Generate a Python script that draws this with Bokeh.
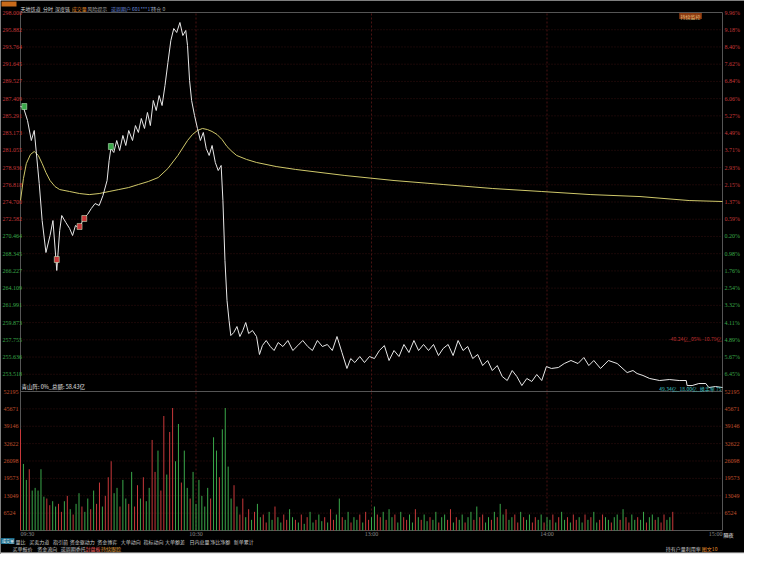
from bokeh.plotting import figure
from bokeh.models import Range1d
from bokeh.core.properties import value
from bokeh.embed import file_html
from bokeh.resources import INLINE

# ---------------- data ----------------
price_ticks = [298.000, 295.882, 293.764, 291.645, 289.527, 287.409, 285.291, 283.173,
               281.055, 278.936, 276.818, 274.700, 272.582, 270.464, 268.345, 266.227,
               264.109, 261.991, 259.873, 257.755, 255.636, 253.518]
pct_labels = ["9.96%", "9.18%", "8.40%", "7.62%", "6.84%", "6.06%", "5.27%", "4.49%",
              "3.71%", "2.93%", "2.15%", "1.37%", "0.59%", "0.20%", "0.98%", "1.76%",
              "2.54%", "3.32%", "4.11%", "4.89%", "5.67%", "6.45%"]
prev_close = 270.98
vol_ticks = [52195, 45671, 39146, 32622, 26098, 19573, 13049, 6524]
time_ticks = [0, 60, 120, 180, 240]
time_labels = ["09:30", "10:30", "13:00", "14:00", "15:00"]

price_min = [0, 1, 2.4, 3.7, 4.7, 6.4, 7.4, 8.7, 10.1, 11.1, 12.4, 13.4, 14.1, 15.5, 16.8, 17.8,
             18.8, 20.2, 21.5, 22.9, 24.2, 25.5, 26.9, 28.2, 29.6, 30.3, 30.9, 31.9, 32.9, 33.9,
             35, 36, 37, 38.3, 39.3, 40.3, 41.3, 42.4, 43.4, 44.4, 45.4, 46.4, 47.4, 48.4, 49.4,
             50.4, 51.4, 52.4, 53.4, 54.5, 55.5, 56.5, 57.1, 57.8, 58.5, 59.5, 60.5, 61.5, 62.5,
             63.5, 64.5, 65.5, 66.6, 67.6, 68.6, 69.2, 69.9, 70.6, 71.3, 71.9, 72.9, 74, 75, 76,
             77, 78, 79.3, 80.7, 81.7, 82.7, 84, 85.4, 86.7, 88.1, 89.7, 91.4, 93.1, 94.8, 96.5,
             98.2, 99.8, 101.5, 103.2, 104.9, 106.6, 108.2, 109.9, 111.6, 112.9, 114.3, 116,
             117.6, 119.3, 121, 122.7, 124.4, 126, 127.7, 129.4, 131.1, 132.8, 134.5, 136.1,
             137.8, 139.5, 141.2, 142.9, 144.5, 146.2, 147.9, 149.6, 151.3, 152.9, 154.6, 156.3,
             158, 159.7, 161.3, 163, 164.7, 166.4, 168.1, 169.7, 171.4, 173.1, 174.8, 176.5,
             178.2, 179.8, 181.5, 183.9, 185.9, 188.2, 190.6, 192.6, 194.3, 196, 198.3, 201, 204,
             207.4, 209.4, 210.8, 212.8, 215.1, 218.5, 221.8, 225.2, 227.6, 227.9, 229.6, 231.9,
             234.3, 235.3, 237.6, 240]
price_val = [286.44, 286.32, 284.72, 282.26, 283.49, 276.97, 272.42, 268.49, 270.58, 272.42,
             266.28, 271.19, 273.04, 272.18, 271.44, 270.58, 271.81, 271.44, 272.67, 273.16,
             273.90, 274.51, 274.27, 275.50, 277.34, 279.80, 281.28, 280.79, 282.26, 281.03,
             282.88, 281.65, 283.49, 282.26, 284.10, 283.25, 284.97, 283.74, 285.71, 284.10,
             287.18, 285.95, 287.79, 286.56, 289.02, 291.85, 294.56, 296.03, 295.54, 296.77,
             295.17, 295.79, 293.94, 289.64, 287.18, 285.33, 283.74, 282.26, 283.25, 281.28,
             280.42, 281.65, 279.56, 278.57, 279.19, 274.88, 267.51, 262.59, 260.13, 258.28,
             258.65, 259.39, 258.16, 258.90, 259.88, 258.53, 258.90, 258.16, 255.95, 257.05,
             257.67, 256.93, 256.44, 257.42, 256.93, 257.67, 256.44, 257.05, 257.67, 256.93,
             256.44, 257.67, 256.93, 257.18, 256.44, 258.16, 256.19, 254.23, 255.45, 254.96,
             255.70, 254.96, 255.70, 255.45, 256.44, 257.05, 255.21, 256.44, 255.70, 257.18,
             256.19, 257.67, 256.44, 257.18, 256.44, 257.18, 255.82, 256.69, 257.18, 255.82,
             257.67, 256.44, 256.93, 255.45, 255.95, 254.59, 255.21, 253.98, 254.59, 253.24,
             252.75, 253.98, 253.24, 252.13, 253.00, 252.63, 253.49, 252.75, 254.47, 254.23,
             254.35, 254.84, 255.21, 254.84, 255.58, 254.59, 255.21, 254.23, 255.21, 254.84,
             253.73, 253.98, 253.61, 253.37, 253.00, 252.75, 252.87, 252.75, 252.75, 252.13,
             252.13, 252.38, 252.38, 251.89, 252.01, 251.89]
avg_min = [0, 1, 2, 3.4, 4.7, 6.1, 7.4, 8.7, 10.1, 11.8, 13.4, 16.8, 20.2, 23.5, 26.9, 30.3,
           33.6, 37, 40.3, 43.7, 47.1, 50.4, 53.8, 57.1, 58.8, 60.5, 62.2, 63.9, 65.5, 67.2,
           68.9, 70.6, 72.3, 73.9, 77.3, 80.7, 87.4, 94.1, 110.9, 127.7, 144.5, 161.3, 178.2,
           195, 211.8, 228.6, 240]
avg_val = [274.88, 277.58, 279.43, 280.54, 280.91, 280.42, 279.43, 278.32, 277.34, 276.60,
           276.23, 275.99, 275.74, 275.61, 275.74, 275.99, 276.23, 276.48, 276.85, 277.22,
           277.71, 278.82, 280.42, 282.26, 283.00, 283.49, 283.74, 283.61, 283.37, 283.00,
           282.38, 281.52, 280.91, 280.42, 279.93, 279.56, 279.06, 278.70, 277.96, 277.34,
           276.85, 276.36, 275.99, 275.61, 275.37, 274.88, 274.76]
vol = [38000, 25000, 19000, 23000, 15000, 16000, 15000, 23000, 12700, 12000, 9500, 11000, 9000, 10000,
       7000, 11000, 13000, 8000, 6000, 10000, 14000, 9000, 7000, 12000, 8000, 15000, 10000, 18000,
       9000, 13000, 20000,
       26000, 14000, 16000, 9000, 19000, 12000, 10000, 22000, 9000, 17000, 12000, 20000, 11000,
       16000, 34000, 22000, 30000, 15000, 43000, 21000, 37000, 46000, 26000, 40000, 18000, 30000,
       16000, 12000, 22000, 10000,
       19000, 13000, 9000, 16000, 12000, 35000, 30000, 20000, 38000, 46000, 24000, 12000, 17000,
       9000, 6000, 12000, 5000, 8000, 4000, 7000, 10000, 5000, 6000,
       3000, 7000, 4000, 9000, 5000, 3000, 6000, 4000, 8000, 5000,
       4000, 3000, 6000, 2500, 5000, 7000, 3000, 4000, 6000, 3500,
       5000, 3000, 8000, 4000, 6000, 12000, 5000, 4000, 7000, 3000,
       5000, 4000, 6000, 3000, 7000, 4000, 5000,
       9000, 6000, 5000, 7000, 4000, 8000, 5000, 6000, 3000, 7000,
       5000, 4000, 6000, 3000, 8000, 5000, 4000, 6000, 3500, 5000,
       4000, 7000, 3000, 5000, 6000, 4000, 8000, 3000, 5000, 4000,
       6000, 3000, 5000, 7000, 4000, 9000, 5000, 6000, 3000, 5000,
       4000, 7000, 5000, 10000, 6000, 8000, 4000, 5000, 6000, 3000,
       7000, 5000, 4000, 6000, 3000, 5000, 4000, 6000, 3000, 5000,
       4000, 6000, 3000, 5000, 7000, 4000, 5000, 3000, 6000, 4000,
       5000, 3000, 6000, 4000, 5000, 7000, 3000, 4000, 6000, 5000,
       4000, 3000, 5000, 6000, 4000, 8000, 5000, 3000, 6000, 4000,
       5000, 4000, 7000, 3000, 5000, 6000, 4000, 5000, 3000, 6000,
       4000, 5000, 7000, 4000, 6000, 5000, 8000, 9000, 6000, 7000,
       5000, 8000, 6000, 10000, 7000, 9000, 8000, 6000, 5000, 12000]
vol_dir = ("udduddddduudduudududdudduduuduu"
           "uddudduduududd"
           "uuduuduuddudduddd"
           "ddduddudddduduudu"
           "dudduuddudduuddudududdu"
           "dduduudduddudduduudduududdudduuddud"
           "udduddudduududdudduduuddududdudduudud"
           "duudduddududduduuddududduuddudduduudd"
           "uddudduduuddu")
marker_min = [1.3, 12.4, 20.2, 21.8, 30.9]
marker_price = [286.44, 267.63, 271.69, 272.67, 281.52]
marker_side = ["S", "B", "B", "B", "S"]

# ---------------- layout ----------------
W, H = 744, 554
PL, PR = 20, 722              # plot area left/right in figure px
PY_TOP, PY_MID, PY_BOT = 12, 391, 530
P_TOP, P_BOT = price_ticks[0], 251.4


def rx(x):
    """reference-picture x -> figure x"""
    if x <= 20:
        return x
    if x <= 734:
        return 20 + (x - 20) * (PR - PL) / 714.0
    return x - (734 - PR)


def xd(x):
    return (rx(x) - PL) / (PR - PL) * 240.0


def xf(fx):
    return (fx - PL) / (PR - PL) * 240.0


def yd(py):
    return P_TOP - (py - PY_TOP) * (P_TOP - P_BOT) / (PY_MID - PY_TOP)


def vd(py):
    return (PY_BOT - py) * vol_ticks[0] / (PY_BOT - PY_MID)


p = figure(width=W, height=H, output_backend="svg", toolbar_location=None,
           x_axis_type=None, y_axis_type=None, min_border=0,
           x_range=Range1d(xf(0), xf(W)), y_range=Range1d(yd(H), yd(0)),
           background_fill_color="#000000", border_fill_color="#000000",
           outline_line_color=None)
p.extra_y_ranges = {"vol": Range1d(vd(H), vd(0))}

CJK = value("Noto Sans CJK SC")
NUM = value("Liberation Sans Narrow")
RED = "#c8383a"
GREEN = "#3aa84a"
GRID = "#351010"

# grids
n = len(price_ticks)
p.segment(x0=[0] * n, y0=price_ticks, x1=[240] * n, y1=price_ticks,
          line_color=GRID, line_width=1, line_dash="1 2")
p.segment(x0=[0] * len(vol_ticks), y0=vol_ticks, x1=[240] * len(vol_ticks), y1=vol_ticks,
          line_color=GRID, line_width=1, line_dash="1 2", y_range_name="vol")
p.segment(x0=time_ticks[1:4], y0=[P_BOT] * 3, x1=time_ticks[1:4], y1=[P_TOP] * 3,
          line_color="#4a1212", line_width=1, line_dash="2 2")
p.segment(x0=time_ticks[1:4], y0=[0] * 3, x1=time_ticks[1:4], y1=[vol_ticks[0]] * 3,
          line_color="#4a1212", line_width=1, line_dash="2 2", y_range_name="vol")

# frame lines
p.segment(x0=[0, 240, 0, 0, 0], y0=[yd(PY_BOT), yd(PY_BOT), P_BOT, P_TOP, yd(PY_BOT)],
          x1=[0, 240, 240, 240, 240], y1=[P_TOP, P_TOP, P_BOT, P_TOP, yd(PY_BOT)],
          line_color="#555555", line_width=1)

# volume bars
vx = list(range(len(vol)))
vcol = [RED if d == "u" else GREEN for d in vol_dir]
p.segment(x0=vx, y0=[0] * len(vol), x1=vx, y1=vol, line_color=vcol, line_width=1,
          y_range_name="vol")

# price + average
p.line(avg_min, avg_val, line_color="#cfc86a", line_width=1)
p.line(price_min, price_val, line_color="#e8e8e8", line_width=1)

# trade markers
mcol = [GREEN if s == "S" else RED for s in marker_side]
p.rect(x=marker_min, y=marker_price, width=5, height=6, width_units="screen",
       height_units="screen", fill_color=mcol, line_color="#d0ffd0", line_width=0.5)

# left price labels
lab_col = [RED if v > prev_close else GREEN for v in price_ticks]
p.text(x=[xd(2)] * n, y=price_ticks,
       text=["%.3f" % v for v in price_ticks], text_color=lab_col,
       text_font=NUM, text_font_size="6px", text_baseline="middle", text_align="left")
# right percentage labels
p.text(x=[xd(736)] * n, y=price_ticks, text=pct_labels, text_color=lab_col,
       text_font=NUM, text_font_size="6px", text_baseline="middle", text_align="left")
# volume labels
VCOL = "#c0502c"
nv = len(vol_ticks)
p.text(x=[xd(3)] * nv, y=vol_ticks, text=[str(v) for v in vol_ticks],
       text_color=VCOL, text_font=NUM, text_font_size="6px",
       text_baseline="middle", text_align="left", y_range_name="vol")
p.text(x=[xd(736)] * nv, y=vol_ticks, text=[str(v) for v in vol_ticks],
       text_color=VCOL, text_font=NUM, text_font_size="6px",
       text_baseline="middle", text_align="left", y_range_name="vol")

# time labels
aligns = ["left", "center", "center", "center", "right"]
for t, lab, al in zip(time_ticks, time_labels, aligns):
    p.text(x=[t], y=[yd(533.5)], text=[lab], text_color="#8a8a8a",
           text_font=NUM, text_font_size="6px", text_baseline="middle", text_align=al)

# top-left badge and title row
p.quad(left=[xd(1)], right=[xd(16)], top=[yd(1)], bottom=[yd(6)], fill_color="#c86a1a",
       line_color=None)
title_items = [("天地铁道", 20, "#d8d8d8"), ("分时", 43, "#d8d8d8"), ("深度链", 55, "#d8d8d8"),
               ("成交量", 72, "#e08a2a"), ("风险提示", 88, "#a0a0a0"),
               ("逆周期户 601***177", 112, "#6a8ad8"), ("持仓 0", 153, "#a0a0a0")]
for txt, px, c in title_items:
    p.text(x=[xd(px)], y=[yd(7.5)], text=[txt], text_color=c, text_font=CJK,
           text_font_size="5px", text_baseline="middle", text_align="left")
p.quad(left=[xd(690)], right=[xd(713)], top=[yd(12.5)], bottom=[yd(18.5)], fill_color="#8a3a10",
       line_color=None)
p.text(x=[xd(701.5)], y=[yd(15.5)], text=["持续监控"], text_color="#f0c080", text_font=CJK,
       text_font_size="5px", text_baseline="middle", text_align="center")

# annotations inside the price panel
p.text(x=[xd(21)], y=[yd(386)], text=["青山阵: 0%_总额: 58.43亿"], text_color="#e0e0e0",
       text_font=CJK, text_font_size="5.5px", text_baseline="middle", text_align="left")
p.text(x=[xd(733)], y=[yd(338)], text=["-40.24亿_05% -10.79亿"], text_color="#c03030",
       text_font=CJK, text_font_size="5px", text_baseline="middle", text_align="right")
p.text(x=[xd(733)], y=[yd(388)], text=["49.34亿_18.00亿_换手率 75"], text_color="#40c0c0",
       text_font=CJK, text_font_size="5px", text_baseline="middle", text_align="right")

# bottom tab rows
tabs1 = [("量比", 15), ("买卖力道", 29), ("指引箭", 53), ("资金驱动力", 70),
         ("资金博弈", 98), ("大单动向", 122), ("指标动向", 145), ("大单额差", 167),
         ("日内总量", 192), ("净比净额", 213), ("新单累计", 237)]
p.quad(left=[xf(0)], right=[xd(14)], top=[yd(537.5)], bottom=[yd(543.5)], fill_color="#1a6a8a",
       line_color=None)
p.text(x=[xd(1.5)], y=[yd(540.5)], text=["成交量"], text_color="#ffffff", text_font=CJK,
       text_font_size="4px", text_baseline="middle", text_align="left")
for txt, px in tabs1:
    p.text(x=[xd(px)], y=[yd(540.5)], text=[txt], text_color="#c8c8c8", text_font=CJK,
           text_font_size="5px", text_baseline="middle", text_align="left")
tabs2 = [("买单报价", 12, "#c8c8c8"), ("资金流向", 37, "#c8c8c8"), ("逆周期委托", 61, "#c8c8c8"),
         ("封盘板", 86, "#ff6060"), ("持续跟踪", 102, "#e0a040")]
for txt, px, c in tabs2:
    p.text(x=[xd(px)], y=[yd(547.5)], text=[txt], text_color=c, text_font=CJK,
           text_font_size="5px", text_baseline="middle", text_align="left")
p.text(x=[xd(712)], y=[yd(547.5)], text=["持有户量利用率"], text_color="#c8c8c8", text_font=CJK,
       text_font_size="5px", text_baseline="middle", text_align="right")
p.text(x=[xd(713)], y=[yd(547.5)], text=["图文10"], text_color="#e08a2a", text_font=CJK,
       text_font_size="5px", text_baseline="middle", text_align="left")
p.text(x=[xd(745)], y=[yd(533.5)], text=["隔夜"], text_color="#ffffff", text_font=CJK,
       text_font_size="5px", text_baseline="middle", text_align="right")

# light grey trading panel edge
p.quad(left=[xf(0)], right=[xf(W)], top=[yd(552)], bottom=[yd(H)],
       fill_color="#e6e6e6", line_color=None)

open("out.html", "w").write(file_html(p, INLINE))
